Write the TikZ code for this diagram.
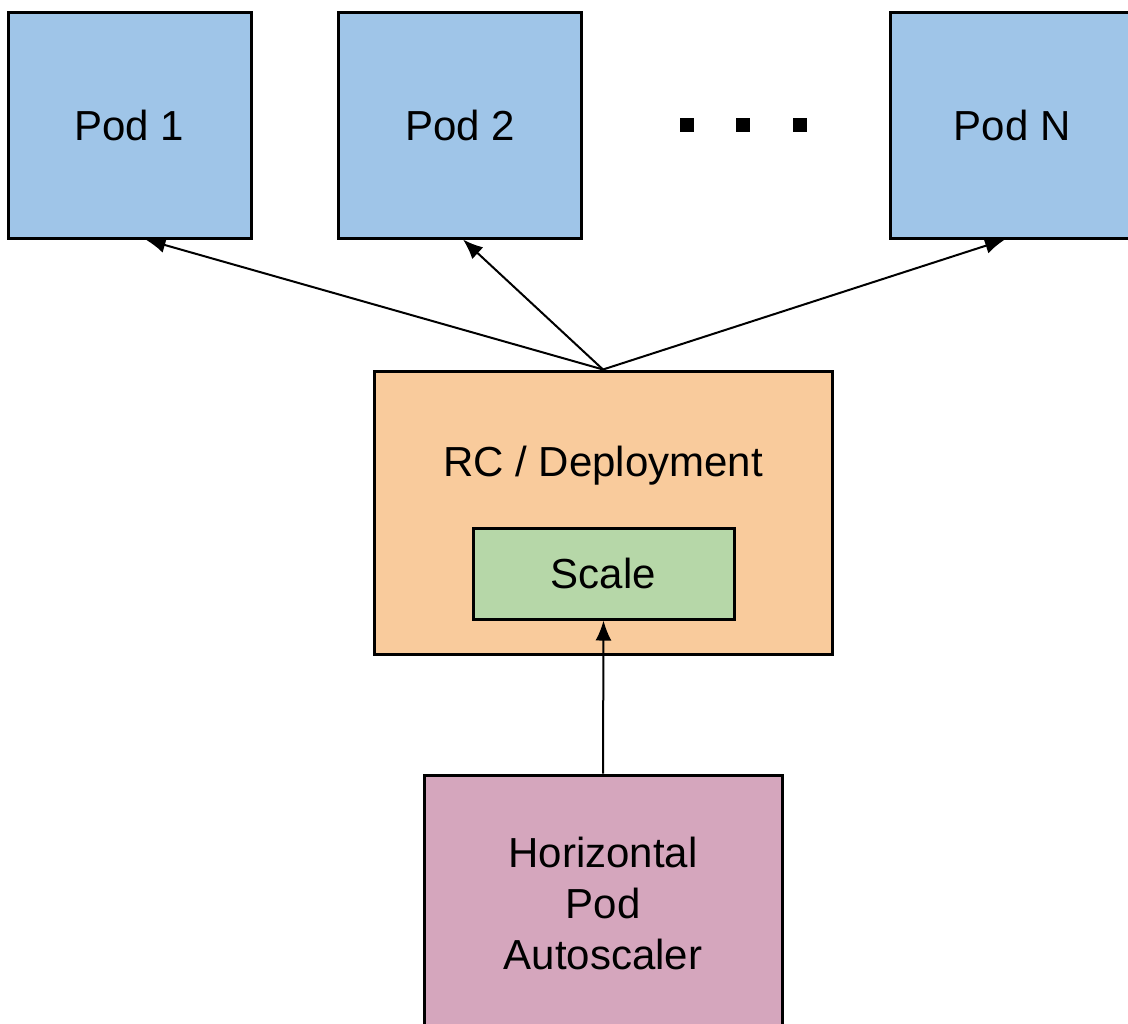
\documentclass[tikz,border=0pt]{standalone}
\usepackage{fontspec}
\setmainfont{Liberation Sans}
\usetikzlibrary{arrows.meta}
\definecolor{podblue}{HTML}{9FC5E8}
\definecolor{rcorange}{HTML}{F9CB9C}
\definecolor{scalegreen}{HTML}{B6D7A8}
\definecolor{hpapink}{HTML}{D5A6BD}
\tikzset{
  box/.style={draw=black, line width=1.5pt, rectangle, inner sep=0pt, align=center,
    font=\fontsize{21pt}{25.5pt}\selectfont},
  podbox/.style={box, fill=podblue, minimum width=121.5pt, minimum height=113pt},
  link/.style={-{Latex[length=10pt,width=8pt]}, line width=1pt},
  dotbox/.style={fill=black, rectangle, inner sep=0pt, minimum size=7pt}
}
\begin{document}
\begin{tikzpicture}[x=0.5pt,y=-0.5pt]
\useasboundingbox (0,0) rectangle (1128,1023);
% pods
\node[podbox] (pod1) at (129.5,125) {Pod 1};
\node[podbox] (pod2) at (460,125) {Pod 2};
\node[podbox] (podn) at (1012,125) {Pod N};
\foreach \x/\n in {687/a,743/b,800/c}
  \node[dotbox] (dot\n) at (\x,125) {};
% controller
\node[box, fill=rcorange, minimum width=229pt, minimum height=141.5pt] (rc) at (603,512.5) {};
\node[font=\fontsize{21pt}{25.5pt}\selectfont] (rclabel) at (603,466) {RC / Deployment};
\node[box, fill=scalegreen, minimum width=130.5pt, minimum height=45.5pt] (scale) at (603.5,573.5) {Scale};
% autoscaler
\node[box, fill=hpapink, minimum width=179pt, minimum height=128pt] (hpa) at (603,903) {Horizontal\\Pod\\Autoscaler};
% arrows
\draw[link] (rc.north) -- ([xshift=8pt]pod1.south);
\draw[link] (rc.north) -- ([xshift=1.5pt]pod2.south);
\draw[link] (rc.north) -- ([xshift=-3.5pt]podn.south);
\draw[link] (hpa.north) -- (scale.south);
\end{tikzpicture}
\end{document}
